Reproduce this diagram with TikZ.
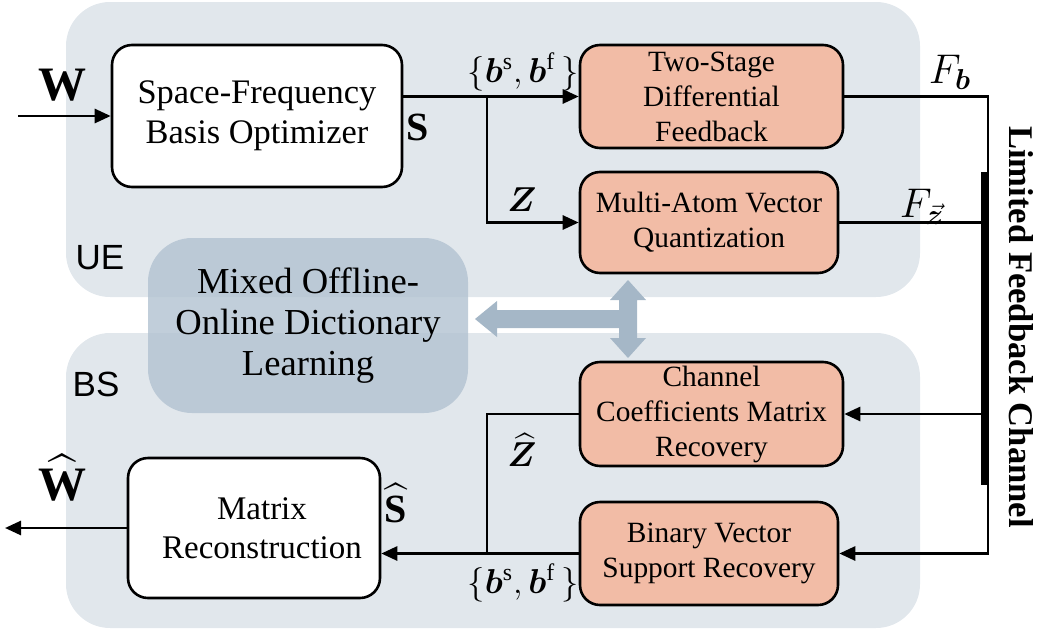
\documentclass[tikz,border=0pt]{standalone}
\usepackage{amsmath,bm}
\usepackage{fontspec}
\setmainfont{Liberation Serif}
\newfontfamily\labsans{Liberation Sans}
\usetikzlibrary{arrows.meta,calc}
\definecolor{panel}{RGB}{225,231,236}
\definecolor{salmon}{RGB}{242,188,166}
\definecolor{mixbox}{RGB}{178,194,209}
\definecolor{bigarr}{RGB}{165,183,199}
\begin{document}
\begin{tikzpicture}[x=0.5pt,y=-0.5pt,
  whitebox/.style={draw=black,line width=1.3pt,fill=white,rounded corners=10pt,align=center,inner sep=0pt},
  salbox/.style={draw=black,line width=1.3pt,fill=salmon,rounded corners=10pt,align=center,inner sep=0pt,font=\fontsize{14.7}{17.5}\selectfont},
  conn/.style={line width=1.35pt,draw=black},
  arr/.style={conn,-{Triangle[length=8pt,width=7pt]}},
  mlab/.style={inner sep=0pt,font=\fontsize{20}{24}\selectfont},
  sidelab/.style={inner sep=0pt,font=\labsans\fontsize{17.5}{20}\selectfont}
]
\useasboundingbox (0,0) rectangle (1038,632);
% panels
\fill[panel,rounded corners=22pt] (66,2) rectangle (920,297);
\fill[panel,rounded corners=22pt] (66,333) rectangle (920,628);
\node[sidelab] (ue) at (100,258) {UE};
\node[sidelab] (bs) at (96,384) {BS};
% boxes
\node[whitebox,minimum width=145pt,minimum height=71pt,font=\fontsize{17.2}{20}\selectfont] (sf) at (257,116) {Space-Frequency\\Basis Optimizer};
\node[salbox,minimum width=131.5pt,minimum height=51.5pt] (two) at (711.5,96.5) {Two-Stage\\Differential\\Feedback};
\node[salbox,minimum width=129pt,minimum height=50.5pt] (multi) at (709,222.5) {Multi-Atom Vector\\Quantization};
\node[salbox,minimum width=131.5pt,minimum height=52pt] (chan) at (711.5,414) {Channel\\Coefficients Matrix\\Recovery};
\node[salbox,minimum width=129pt,minimum height=51.5pt] (bin) at (709,553.5) {Binary Vector\\Support Recovery};
\node[whitebox,minimum width=126pt,minimum height=70pt,font=\fontsize{16.5}{19.5}\selectfont] (mat) at (254,528) {\hspace*{8pt}Matrix\\\hspace*{8pt}Reconstruction};
% mixed box
\node[fill=mixbox,fill opacity=0.8,text opacity=1,rounded corners=22pt,minimum width=160pt,minimum height=87.5pt,align=center,inner sep=0pt,font=\fontsize{18.3}{20.5}\selectfont] (mix) at (308,325.5) {Mixed Offline-\\Online Dictionary\\Learning};
% big arrows
\fill[bigarr] (628,280) -- (646,300) -- (637,300) -- (637,338) -- (646,338) -- (628,358) -- (610,338) -- (619,338) -- (619,300) -- (610,300) -- cycle;
\fill[bigarr] (475,319) -- (497,301) -- (497,310) -- (628,310) -- (628,328) -- (497,328) -- (497,337) -- cycle;
% coordinates
\coordinate (win) at (18,116);
\coordinate (wout) at (5,528);
\coordinate (br1) at (487,96.5);
\coordinate (br2) at (487,553.5);
\coordinate (ch1) at (988,96.5);
\coordinate (ch2) at (988,553.5);
\coordinate (bt) at (984,172);
\coordinate (bb) at (984,485);
% connectors
\draw[arr] (win) -- (sf.west);
\draw[arr] (sf.east |- two.west) -- (two.west);
\draw[arr] (br1) |- (multi.west);
\draw[arr] (two.east) -- (ch1) -- (ch2) -- (bin.east);
\draw[line width=3.5pt] (bt) -- (bb);
\draw[conn] (multi.east) -- (multi.east -| bt);
\draw[arr] (chan.east -| bt) -- (chan.east);
\draw[arr] (bin.west) -- (bin.west -| mat.east);
\draw[conn] (br2) |- (chan.west);
\draw[arr] (mat.west) -- (wout);
% labels
\node[mlab,font=\fontsize{24}{26}\selectfont] (lw) at (63,85) {\textbf{W}};
\node[mlab] (ls) at (418,127) {\textbf{S}};
\node[mlab,font=\fontsize{17}{20}\selectfont] (lb1) at (523,72) {$\{\bm{b}^{\mathrm{s}},\bm{b}^{\mathrm{f}}\,\}$};
\node[mlab,font=\fontsize{19}{22}\selectfont] (lz) at (522,200) {$\bm{Z}$};
\node[mlab,font=\fontsize{21}{24}\selectfont] (lfb) at (950,72) {$F_{\bm{b}}$};
\node[mlab,font=\fontsize{21}{24}\selectfont] (lfz) at (922,207) {$F_{\vec{\bm{z}}}$};
\node[mlab,font=\fontsize{19}{22}\selectfont] (lzh) at (522,450) {$\widehat{\bm{Z}}$};
\node[mlab] (lsh) at (396,503) {$\widehat{\text{\textbf{S}}}$};
\node[mlab,font=\fontsize{24}{26}\selectfont] (lwh) at (62,478) {$\widehat{\text{\textbf{W}}}$};
\node[mlab,font=\fontsize{17}{20}\selectfont] (lb2) at (523,583) {$\{\bm{b}^{\mathrm{s}},\bm{b}^{\mathrm{f}}\,\}$};
\node[inner sep=0pt,rotate=-90,font=\bfseries\fontsize{17.3}{20}\selectfont] (lfc) at (1021,327) {Limited Feedback Channel};
\end{tikzpicture}
\end{document}
